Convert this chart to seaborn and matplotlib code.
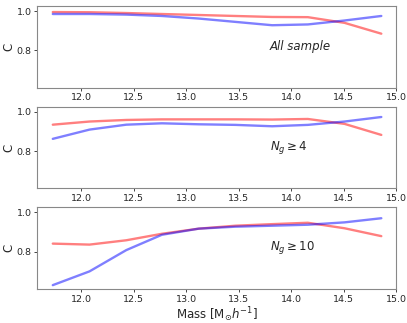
import pandas as pd
import seaborn as sns
import matplotlib.pyplot as plt

##Mass bins (log10) shared by all panels
mass = [11.73, 12.08, 12.43, 12.77, 13.12, 13.47, 13.82, 14.16, 14.51, 14.86]

##Completeness curves, one pair per sample cut
all_red = [0.995, 0.994, 0.99, 0.985, 0.98, 0.975, 0.97, 0.969, 0.94, 0.885]
all_blue = [0.985, 0.985, 0.982, 0.975, 0.962, 0.945, 0.928, 0.932, 0.952, 0.975]
ng4_red = [0.934, 0.95, 0.958, 0.961, 0.961, 0.961, 0.96, 0.963, 0.938, 0.882]
ng4_blue = [0.862, 0.909, 0.934, 0.941, 0.936, 0.933, 0.926, 0.933, 0.95, 0.973]
ng10_red = [0.841, 0.836, 0.858, 0.891, 0.917, 0.932, 0.94, 0.947, 0.919, 0.879]
ng10_blue = [0.63, 0.70, 0.808, 0.886, 0.917, 0.927, 0.932, 0.937, 0.949, 0.97]

labels = ['All sample', r'$N_g \geq \mathit{4}$', r'$N_g \geq \mathit{10}$']
reds = [all_red, ng4_red, ng10_red]
blues = [all_blue, ng4_blue, ng10_blue]

sns.set_style('ticks')
plt.rcParams['font.family'] = ['DejaVu Sans']

fig, axes = plt.subplots(3, 1, figsize=(4.07, 3.23), dpi=100)
fig.subplots_adjust(left=0.091, right=0.973, top=0.981, bottom=0.105, hspace=0.232)

for ax, lab, r, b in zip(axes, labels, reds, blues):
    df = pd.DataFrame({'mass': mass, 'red': r, 'blue': b})
    sns.lineplot(data=df, x='mass', y='red', ax=ax, color='r', alpha=0.5, linewidth=1.7)
    sns.lineplot(data=df, x='mass', y='blue', ax=ax, color='b', alpha=0.5, linewidth=1.7)
    ax.set_xlim(11.58, 15.0)
    ax.set_ylim(0.61, 1.025)
    ax.set_yticks([0.8, 1.0])
    ax.set_xticks([12.0, 12.5, 13.0, 13.5, 14.0, 14.5, 15.0])
    ax.tick_params(labelsize=6.8, length=2.5, width=0.6, pad=1.5)
    for s in ax.spines.values():
        s.set_color('#888888')
        s.set_linewidth(0.8)
    ax.set_ylabel('C', fontsize=8.5, labelpad=1)
    ax.set_xlabel('')
    ax.text(13.8, 0.82, lab, fontsize=8.5, style='italic', va='center')

axes[2].set_xlabel(r'Mass [M$_{\odot}h^{-1}$]', fontsize=8.5, labelpad=1)

plt.savefig('out.png', dpi=100)
